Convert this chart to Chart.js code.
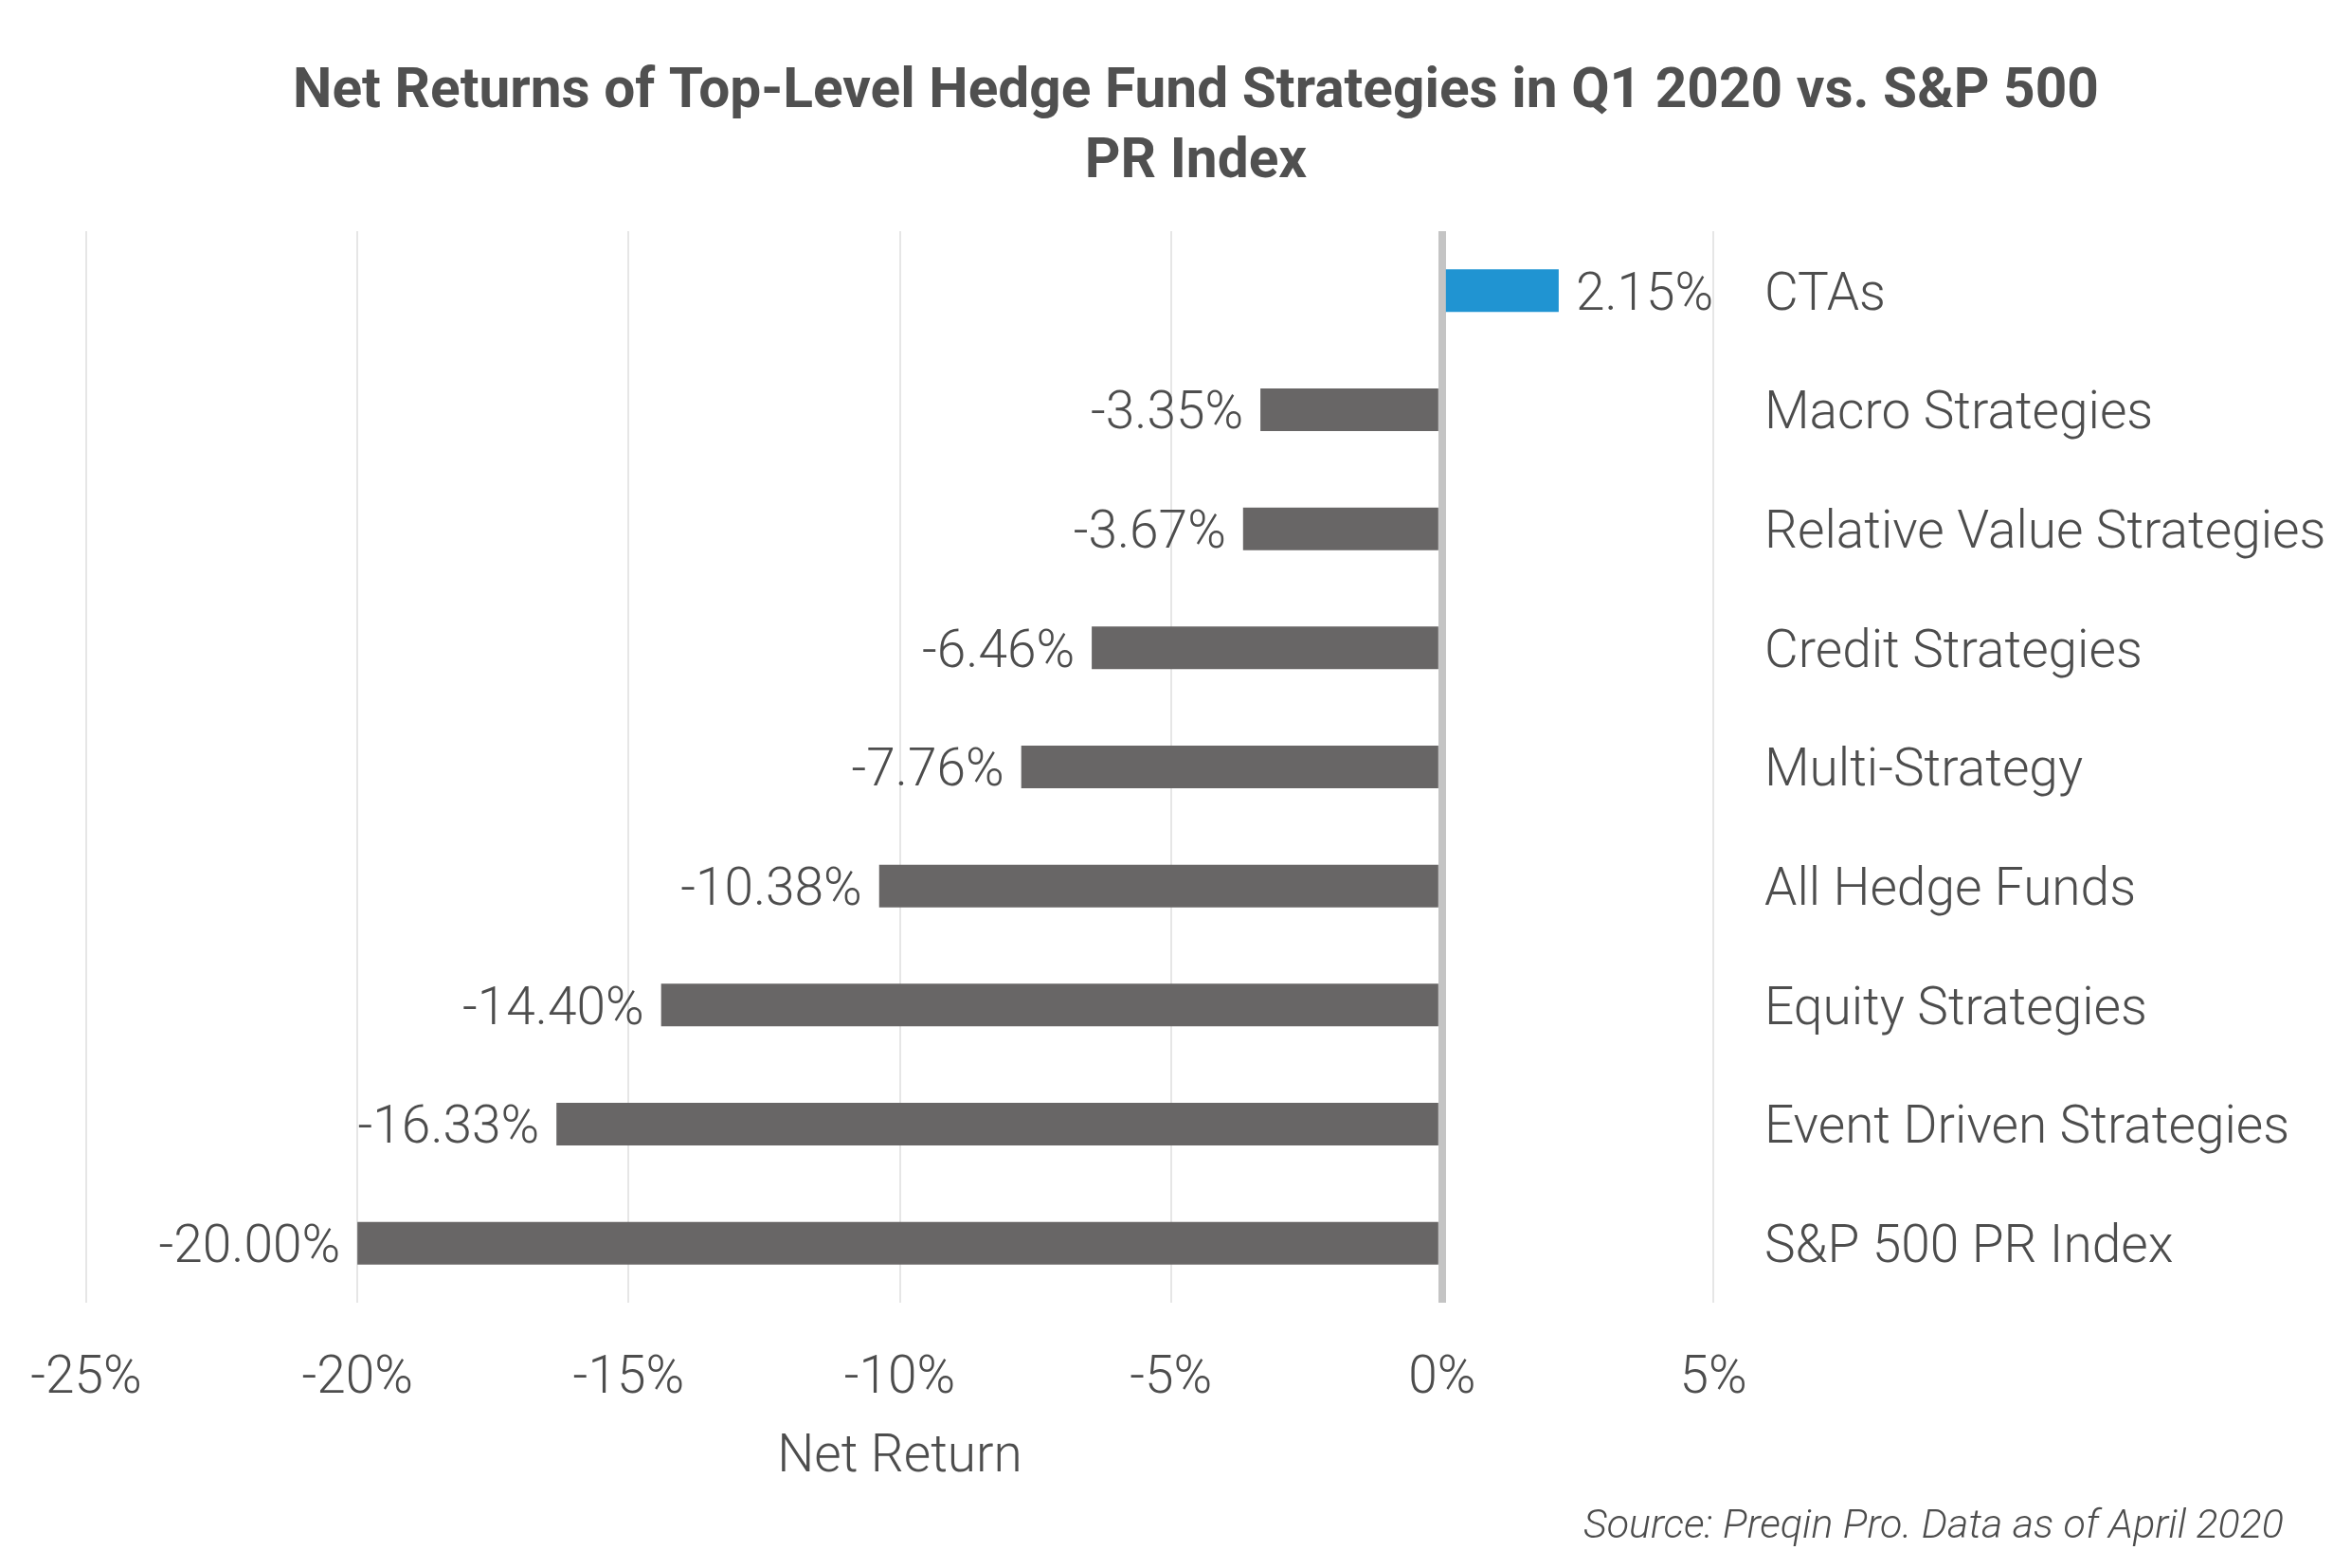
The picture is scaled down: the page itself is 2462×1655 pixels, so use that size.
<!DOCTYPE html>
<html>
<head>
<meta charset="utf-8">
<script src="https://cdn.jsdelivr.net/npm/chart.js@4/dist/chart.umd.min.js"></script>
<style>
  html, body { margin: 0; padding: 0; background: #ffffff; }
  #wrap { width: 2462px; height: 1655px; position: relative; }
</style>
</head>
<body>
<div id="wrap"><canvas id="c" width="2462" height="1655"></canvas></div>
<script>
const categories = [
  "CTAs",
  "Macro Strategies",
  "Relative Value Strategies",
  "Credit Strategies",
  "Multi-Strategy",
  "All Hedge Funds",
  "Equity Strategies",
  "Event Driven Strategies",
  "S&P 500 PR Index"
];
const netReturns = [2.15, -3.35, -3.67, -6.46, -7.76, -10.38, -14.40, -16.33, -20.00];
const xTicks = [-25, -20, -15, -10, -5, 0, 5];
const titleLines = ["Net Returns of Top-Level Hedge Fund Strategies in Q1 2020 vs. S&P 500", "PR Index"];
const axisTitle = "Net Return";
const sourceText = "Source: Preqin Pro. Data as of April 2020";

const TEXT = '#4d4d4d';
const GRAY_BAR = '#686666';
const BLUE_BAR = '#2094d2';
const FONT = 'Roboto, "Liberation Sans", sans-serif';

const valueLabels = {
  id: 'valueLabels',
  afterDatasetsDraw(chart) {
    const ctx = chart.ctx;
    const meta = chart.getDatasetMeta(0);
    ctx.save();
    ctx.font = '300 55px ' + FONT;
    ctx.fillStyle = TEXT;
    ctx.textBaseline = 'middle';
    meta.data.forEach((bar, i) => {
      const v = netReturns[i];
      const txt = v.toFixed(2) + '%';
      if (v >= 0) {
        ctx.textAlign = 'left';
        ctx.fillText(txt, bar.x + 18, bar.y + 6);
      } else {
        ctx.textAlign = 'right';
        ctx.fillText(txt, bar.x - 18, bar.y + 6);
      }
    });
    ctx.restore();
  }
};

// let the right-hand category labels run to the canvas edge instead of being clipped
const unclipLabels = {
  id: 'unclipLabels',
  afterLayout(chart) {
    chart.scales.y.right = chart.width;
  }
};

const sourceNote = {
  id: 'sourceNote',
  afterDraw(chart) {
    const ctx = chart.ctx;
    ctx.save();
    ctx.font = 'italic 300 43px ' + FONT;
    ctx.fillStyle = TEXT;
    ctx.textAlign = 'right';
    ctx.textBaseline = 'middle';
    ctx.fillText(sourceText, 2410, 1612);
    ctx.restore();
  }
};

new Chart(document.getElementById('c'), {
  type: 'bar',
  data: {
    labels: categories,
    datasets: [{
      data: netReturns,
      backgroundColor: netReturns.map(v => v >= 0 ? BLUE_BAR : GRAY_BAR),
      borderWidth: 0,
      categoryPercentage: 1,
      barPercentage: 0.358
    }]
  },
  options: {
    indexAxis: 'y',
    responsive: false,
    animation: false,
    devicePixelRatio: 1,
    layout: { padding: { left: 91, right: 29, top: 0, bottom: 83 } },
    plugins: {
      legend: { display: false },
      tooltip: { enabled: false },
      title: {
        display: true,
        text: titleLines,
        color: '#505050',
        font: { family: FONT, size: 58.6, weight: 'bold', lineHeight: 1.25 },
        padding: { top: 62, bottom: 35.5 }
      }
    },
    scales: {
      x: {
        type: 'linear',
        min: -25,
        max: 5,
        afterBuildTicks(scale) { scale.ticks = xTicks.map(v => ({ value: v })); },
        afterFit(scale) {
          scale.height = 197;
          scale.paddingLeft = 0;
          scale.paddingRight = 0;
        },
        ticks: {
          color: TEXT,
          padding: 48,
          font: { family: FONT, size: 55, weight: '300' },
          callback: v => v + '%'
        },
        grid: {
          drawTicks: false,
          color: ctx => ctx.tick && ctx.tick.value === 0 ? '#c4c4c4' : '#e6e6e6',
          lineWidth: ctx => ctx.tick && ctx.tick.value === 0 ? 8 : 2
        },
        border: { display: false },
        title: {
          display: true,
          text: axisTitle,
          color: TEXT,
          font: { family: FONT, size: 55, weight: '300' },
          padding: { top: 0, bottom: 0 }
        }
      },
      y: {
        type: 'category',
        position: 'right',
        offset: true,
        afterFit(scale) { scale.width = 625; },
        ticks: {
          color: TEXT,
          padding: 54,
          labelOffset: 6,
          font: { family: FONT, size: 55, weight: '300' }
        },
        grid: { display: false, drawTicks: false },
        border: { display: false }
      }
    }
  },
  plugins: [unclipLabels, valueLabels, sourceNote]
});
</script>
</body>
</html>
